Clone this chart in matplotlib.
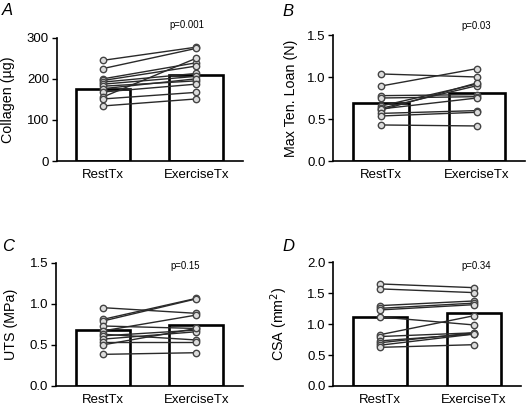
import matplotlib
matplotlib.use("Agg")
import matplotlib.pyplot as plt
import numpy as np

plt.rcParams['font.family'] = ['Liberation Sans', 'DejaVu Sans']

groups = ['RestTx', 'ExerciseTx']

# panel A - collagen
coll_rest = [245, 225, 200, 196, 192, 187, 182, 176, 168, 156, 151, 134]
coll_ex = [277, 274, 239, 231, 213, 206, 195, 200, 187, 250, 167, 151]
coll_bar = [176, 210]

# panel B - max tensile load
load_rest = [1.036, 0.893, 0.778, 0.75, 0.655, 0.627, 0.607, 0.62, 0.567, 0.536, 0.429]
load_ex = [1.0, 1.10, 0.79, 0.766, 0.917, 0.897, 0.93, 0.75, 0.6, 0.58, 0.417]
load_bar = [0.694, 0.806]

# panel C - UTS
uts_rest = [0.953, 0.81, 0.79, 0.73, 0.67, 0.63, 0.61, 0.57, 0.54, 0.50, 0.385]
uts_ex = [0.884, 1.066, 1.06, 0.70, 0.863, 0.56, 0.68, 0.66, 0.54, 0.70, 0.405]
uts_bar = [0.68, 0.745]

# panel D - CSA
csa_rest = [1.65, 1.57, 1.30, 1.256, 1.23, 1.116, 0.83, 0.80, 0.73, 0.70, 0.66, 0.625]
csa_ex = [1.59, 1.51, 1.375, 1.34, 1.315, 0.987, 1.137, 0.86, 0.84, 0.86, 0.84, 0.668]
csa_bar = [1.12, 1.175]

W, H = 530, 407
fig = plt.figure(figsize=(W / 100, H / 100), dpi=100)


def px_axes(left, right, top, bottom):
    return fig.add_axes([left / W, 1 - bottom / H, (right - left) / W, (bottom - top) / H])


panels = [
    # left, right, top, bottom, label_x, letter, ylabel, ymax, yticks, fmt, p, rest, ex, bars
    (56.7, 242.7, 37.7, 161, 15.5, 'A', 'Collagen (µg)', 300, [0, 100, 200, 300], '{:.0f}',
     'p=0.001', coll_rest, coll_ex, coll_bar, (2, 15), (187, 25)),
    (333.3, 525, 35, 161, 298.5, 'B', 'Max Ten. Loan (N)', 1.5, [0, 0.5, 1.0, 1.5], '{:.1f}',
     'p=0.03', load_rest, load_ex, load_bar, (282, 16), (476, 26)),
    (56, 243, 262.7, 386, 18.5, 'C', 'UTS (MPa)', 1.5, [0, 0.5, 1.0, 1.5], '{:.1f}',
     'p=0.15', uts_rest, uts_ex, uts_bar, (2, 251), (185, 266)),
    (333.3, 521, 262.3, 386, 290, 'D', 'CSA (mm$^2$)', 2.0, [0, 0.5, 1.0, 1.5, 2.0], '{:.1f}',
     'p=0.34', csa_rest, csa_ex, csa_bar, (282, 251), (476, 266)),
]

x = np.arange(len(groups))
for (l, r, t, b, lx, letter, ylab, ymax, yt, fmt, ptxt, rest, ex, bars, lpos, ppos) in panels:
    ax = px_axes(l, r, t, b)
    ax.bar(x, bars, width=0.58, color='white', edgecolor='black', linewidth=1.9, zorder=1)
    for a, c in zip(rest, ex):
        ax.plot(x, [a, c], '-o', color='#2a2a2a', lw=1.0, ms=4.6,
                mfc='#dcdcdc', mec='#444444', mew=1.0, zorder=3)
    ax.set_xlim(-0.5, 1.5)
    ax.set_ylim(0, ymax)
    ax.set_yticks(yt)
    ax.set_yticklabels([fmt.format(v) for v in yt])
    ax.set_xticks(x)
    ax.set_xticklabels(groups)
    ax.tick_params(axis='x', length=0, labelsize=9.5, pad=6)
    ax.tick_params(axis='y', length=3.5, width=1, labelsize=9.5, pad=2)
    for s in ['top', 'right']:
        ax.spines[s].set_visible(False)
    for s in ['left', 'bottom']:
        ax.spines[s].set_linewidth(1.2)
    ax.set_ylabel(ylab, fontsize=10.3)
    ax.yaxis.set_label_coords((lx - l) / (r - l), 0.5)
    fig.text(lpos[0] / W, 1 - lpos[1] / H, letter, fontsize=12, style='italic',
             ha='left', va='baseline')
    fig.text(ppos[0] / W, 1 - ppos[1] / H, ptxt, fontsize=6.9, ha='center', va='center')

fig.savefig('out.png', dpi=100)
